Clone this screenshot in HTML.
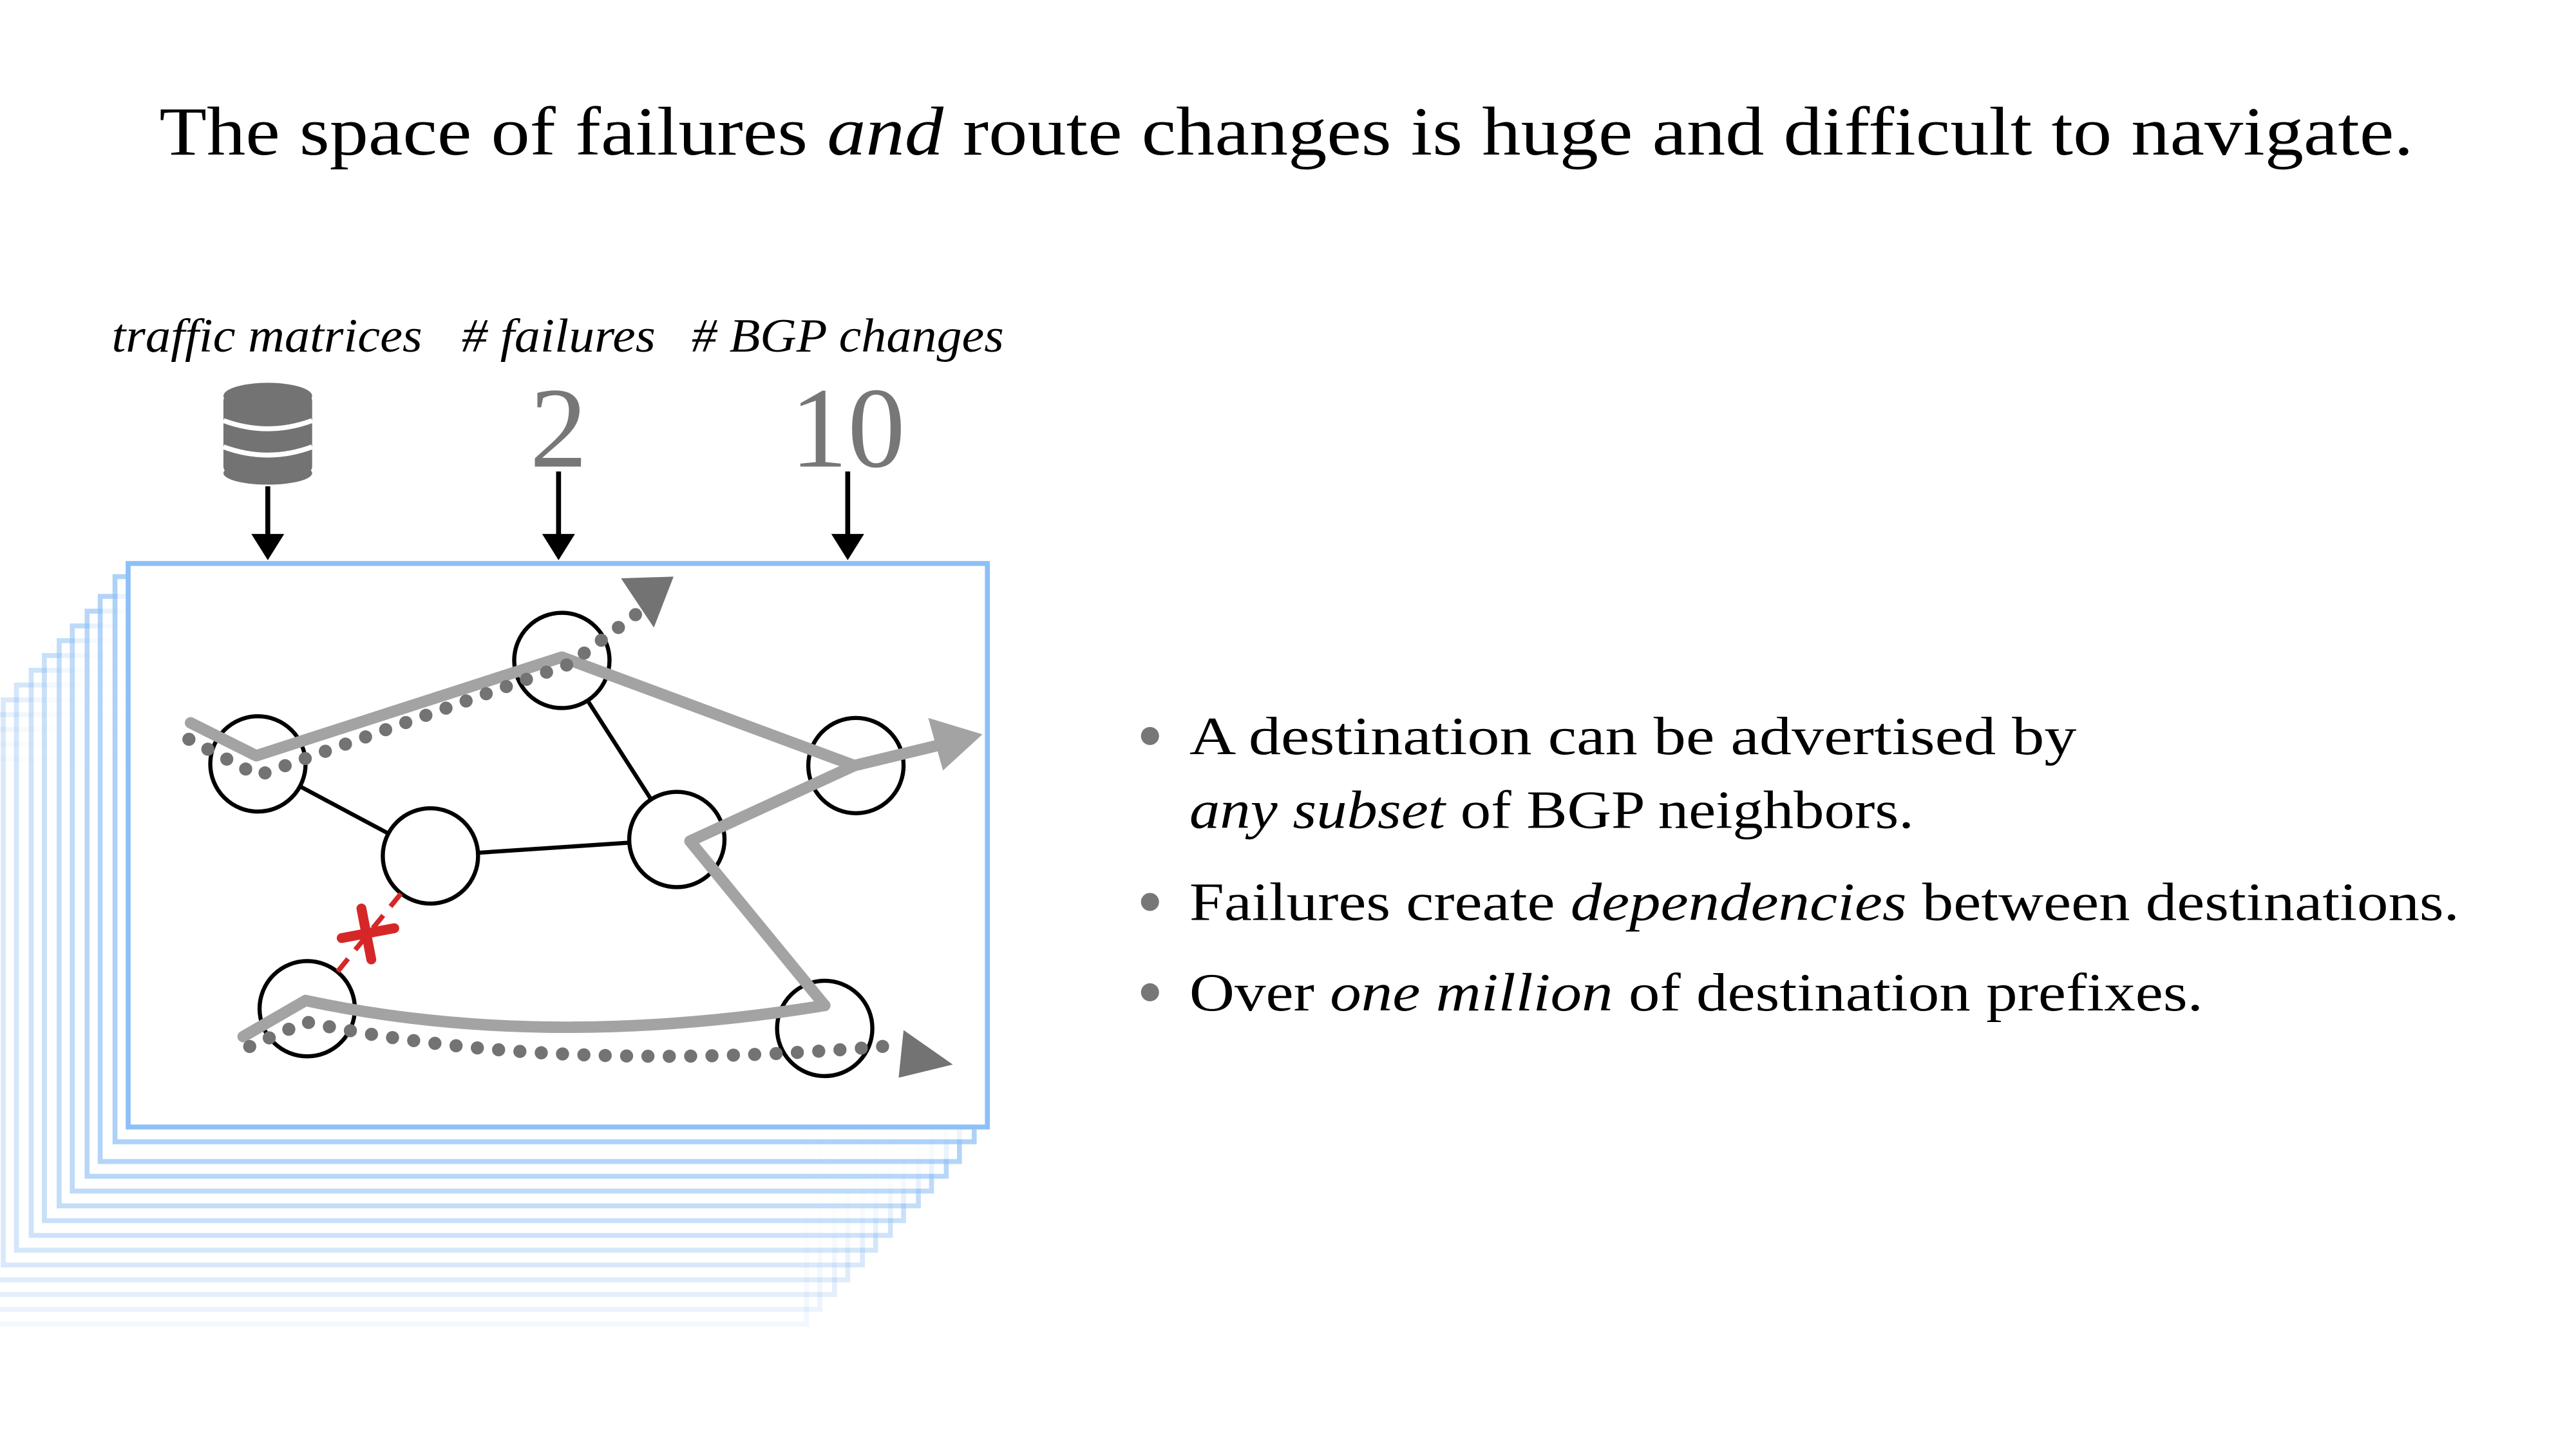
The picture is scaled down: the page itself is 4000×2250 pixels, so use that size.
<!DOCTYPE html>
<html><head><meta charset="utf-8"><style>
html,body{margin:0;padding:0;background:#fff;}
svg{display:block;}
</style></head><body>
<svg width="4000" height="2250" viewBox="0 0 1568 882" xmlns="http://www.w3.org/2000/svg" font-family="Liberation Serif, serif">
<rect width="1568" height="882" fill="#fff"/>
<text x="97" y="94" font-size="42" textLength="1372" lengthAdjust="spacingAndGlyphs">The space of failures <tspan font-style="italic">and</tspan> route changes is huge and difficult to navigate.</text>

<g font-style="italic" font-size="29">
<text x="68" y="214" textLength="189" lengthAdjust="spacingAndGlyphs">traffic matrices</text>
<text x="281" y="214" textLength="118" lengthAdjust="spacingAndGlyphs"># failures</text>
<text x="421" y="214" textLength="190" lengthAdjust="spacingAndGlyphs"># BGP changes</text>
</g>
<text x="340" y="284" font-size="70" fill="#777" text-anchor="middle">2</text>
<text x="516" y="284" font-size="70" fill="#777" text-anchor="middle">10</text>
<g fill="#737373">
<rect x="136" y="240" width="54" height="48" rx="4"/>
<ellipse cx="163" cy="241" rx="27" ry="8"/>
<ellipse cx="163" cy="288" rx="27" ry="7"/>
</g>
<path d="M136 256 Q163 266 190 256 M136 272 Q163 282 190 272" stroke="#fff" stroke-width="3" fill="none"/>
<g stroke="#000" stroke-width="3">
<line x1="163" y1="296" x2="163" y2="328"/><line x1="340" y1="287" x2="340" y2="328"/><line x1="516" y1="287" x2="516" y2="328"/>
</g>
<g fill="#000">
<polygon points="153,325 173,325 163,341"/><polygon points="330,325 350,325 340,341"/><polygon points="506,325 526,325 516,341"/>
</g>

<g fill="#fff" stroke="#93c3f5" stroke-width="3">
<rect x="-32" y="462" width="523" height="344" opacity="0.12"/>
<rect x="-24" y="453" width="523" height="344" opacity="0.18"/>
<rect x="-15" y="444" width="523" height="344" opacity="0.25"/>
<rect x="-7" y="435" width="523" height="344" opacity="0.3"/>
<rect x="2" y="426" width="523" height="344" opacity="0.35"/>
<rect x="10" y="417" width="523" height="344" opacity="0.4"/>
<rect x="19" y="408" width="523" height="344" opacity="0.45"/>
<rect x="27" y="399" width="523" height="344" opacity="0.5"/>
<rect x="36" y="390" width="523" height="344" opacity="0.55"/>
<rect x="44" y="381" width="523" height="344" opacity="0.6"/>
<rect x="53" y="372" width="523" height="344" opacity="0.65"/>
<rect x="61" y="363" width="523" height="344" opacity="0.7"/>
<rect x="70" y="351" width="523" height="344" opacity="0.75"/>
<rect x="78" y="343" width="523" height="343" stroke="#8cc0f7"/>
</g>

<g stroke="#000" stroke-width="2.5">
<line x1="157" y1="465" x2="262" y2="521"/>
<line x1="342" y1="402" x2="412" y2="511"/>
<line x1="262" y1="521" x2="412" y2="511"/>
</g>
<g fill="#fff" stroke="#000" stroke-width="2.5">
<circle cx="157" cy="465" r="29"/><circle cx="342" cy="402" r="29"/><circle cx="521" cy="466" r="29"/>
<circle cx="262" cy="521" r="29"/><circle cx="412" cy="511" r="29"/><circle cx="187" cy="614" r="29"/><circle cx="502" cy="626" r="29"/>
</g>
<line x1="244" y1="544" x2="205" y2="592" stroke="#d62728" stroke-width="3" stroke-dasharray="10 7"/>
<g stroke="#d62728" stroke-width="6" stroke-linecap="round">
<line x1="220" y1="553" x2="226" y2="584"/><line x1="208" y1="571" x2="240" y2="565"/>
</g>

<g stroke="#a3a3a3" stroke-width="7" fill="none" stroke-linejoin="round" stroke-linecap="round">
<polyline points="116,440 156,460 342,400 520,466"/>
<polyline points="502,612 420,512 520,466 578,452"/>
<path d="M148,631 L186,609 Q330,640 502,612"/>
</g>
<polygon points="565,437 598,447 574,469" fill="#a3a3a3"/>

<g stroke="#737373" stroke-width="8" fill="none" stroke-linecap="round" stroke-dasharray="0 13">
<polyline points="115,450 157,472 347,404 395,368"/>
<path d="M152,637 L186,622 Q340,655 548,636"/>
</g>
<polygon points="378,352 410,351 398,382" fill="#737373"/>
<polygon points="550,627 580,648 547,656" fill="#737373"/>

<g fill="#777"><circle cx="700" cy="448" r="5.5"/><circle cx="700" cy="549" r="5.5"/><circle cx="700" cy="604" r="5.5"/></g>
<g font-size="33">
<text x="724" y="459" textLength="540" lengthAdjust="spacingAndGlyphs">A destination can be advertised by</text>
<text x="724" y="504" textLength="441" lengthAdjust="spacingAndGlyphs"><tspan font-style="italic">any subset</tspan> of BGP neighbors.</text>
<text x="724" y="560" textLength="773" lengthAdjust="spacingAndGlyphs">Failures create <tspan font-style="italic">dependencies</tspan> between destinations.</text>
<text x="724" y="615" textLength="617" lengthAdjust="spacingAndGlyphs">Over <tspan font-style="italic">one million</tspan> of destination prefixes.</text>
</g>
</svg>
</body></html>
